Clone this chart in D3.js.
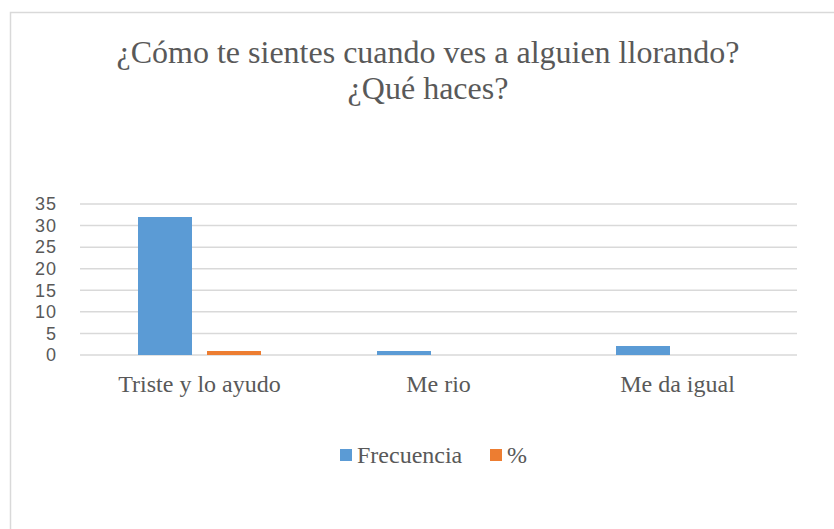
<!DOCTYPE html>
<html><head><meta charset="utf-8">
<script src="https://cdn.jsdelivr.net/npm/d3@7"></script>
<style>body{margin:0;background:#fff}svg{display:block}</style>
</head><body>
<svg id="c" width="834" height="529"></svg>
<script>
const categories = ["Triste y lo ayudo", "Me rio", "Me da igual"];
const seriesNames = ["Frecuencia", "%"];
const frecuencia = [32, 1, 2];
const porcentaje = [0.91, 0.03, 0.06];
const yTicks = [0, 5, 10, 15, 20, 25, 30, 35];
const titleLines = ["¿Cómo te sientes cuando ves a alguien llorando?", "¿Qué haces?"];
const colors = ["#5b9bd5", "#ed7d31"];

const svg = d3.select("#c");
svg.append("rect").attr("x", 10.5).attr("y", 12.5).attr("width", 840).attr("height", 540)
  .attr("fill", "#fff").attr("stroke", "#d9d9d9").attr("stroke-width", 1.5);

const serif = "'Liberation Serif', 'Times New Roman', serif";
const sans = "'Liberation Sans', Arial, sans-serif";

svg.selectAll("text.title").data(titleLines).join("text")
  .attr("x", 428).attr("y", (d, i) => 63 + i * 36)
  .attr("text-anchor", "middle").style("font-family", serif).style("font-size", "32px")
  .attr("fill", "#595959").text(d => d);

const x0 = d3.scaleBand().domain(categories).range([80, 797]);
const x1 = d3.scaleBand().domain(seriesNames).range([0, x0.bandwidth()]).paddingInner(0.206).paddingOuter(0.86);
const y = d3.scaleLinear().domain([0, 35]).range([355, 204]);

const grid = svg.append("g");
grid.selectAll("line").data(yTicks).join("line")
  .attr("x1", 80).attr("x2", 797).attr("y1", d => y(d)).attr("y2", d => y(d))
  .attr("stroke", "#d9d9d9").attr("stroke-width", 1.5);

const yAxis = svg.append("g").attr("transform", "translate(57,0)")
  .call(d3.axisLeft(y).tickValues(yTicks).tickSize(0).tickPadding(0));
yAxis.select(".domain").remove();
yAxis.selectAll("text").style("font-family", sans).style("font-size", "18px")
  .style("letter-spacing", "1px").attr("fill", "#595959");

const data = categories.map((c, i) => ({c, vals: [frecuencia[i], porcentaje[i]]}));
const g = svg.append("g").attr("shape-rendering", "crispEdges");
data.forEach(d => {
  d.vals.forEach((v, j) => {
    g.append("rect")
      .attr("x", x0(d.c) + x1(seriesNames[j]))
      .attr("width", x1.bandwidth())
      .attr("y", y(v)).attr("height", y(0) - y(v))
      .attr("fill", colors[j]);
  });
});

svg.selectAll("text.cat").data(categories).join("text")
  .attr("x", d => x0(d) + x0.bandwidth() / 2).attr("y", 392)
  .attr("text-anchor", "middle").style("font-family", serif).style("font-size", "24px")
  .attr("fill", "#595959").text(d => d);

const legX = [340, 490];
seriesNames.forEach((s, i) => {
  svg.append("rect").attr("x", legX[i]).attr("y", 449).attr("width", 12).attr("height", 12).attr("fill", colors[i]);
  svg.append("text").attr("x", legX[i] + 17).attr("y", 463).style("font-family", serif).style("font-size", "24px")
    .attr("fill", "#595959").text(s);
});
</script>
</body></html>
